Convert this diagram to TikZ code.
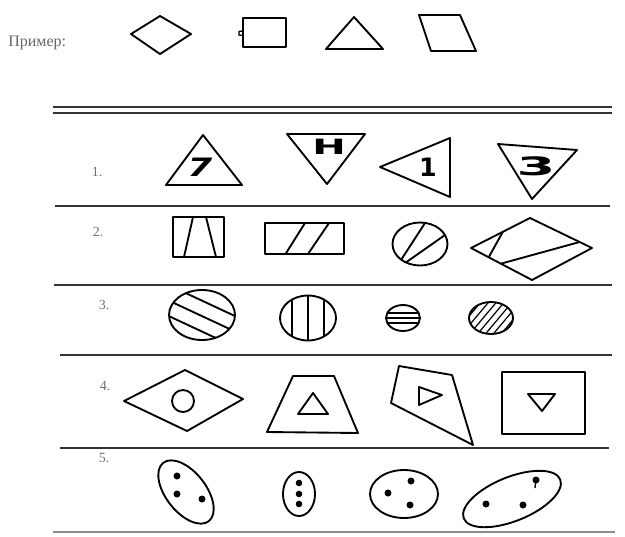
\documentclass[tikz,border=0pt]{standalone}
\usepackage{fontspec}
\setmainfont{Liberation Serif}
\newfontfamily\signfont{DejaVu Sans}
\usetikzlibrary{calc}

\newcommand{\wide}[2]{\scalebox{#1}[1]{#2}}

\begin{document}
\begin{tikzpicture}[x=0.75pt, y=-0.75pt,
  fig/.style={draw, line width=1.4pt, line join=round},
  hatch/.style={line width=0.9pt},
  rule/.style={draw=black!80, line width=1.3pt},
  rowlab/.style={font=\fontsize{10.5}{10.5}\selectfont, text=black!55, inner sep=0pt},
  sign/.style={font=\signfont\bfseries\fontsize{19}{19}\selectfont, inner sep=0pt}]
\useasboundingbox (0,0) rectangle (625,536);

% example row
\node[font=\fontsize{12}{12}\selectfont, text=black!60, anchor=west, inner sep=0pt] (primer) at (8,43) {Пример:};
\draw[fig] (131,34) -- (160,16) -- (191,34) -- (160,54) -- cycle;
\draw[fig] (243,18) rectangle (286,47);
\draw[line width=1pt] (243,31) -- (239,31.5) -- (239,35) -- (243,35.5);
\draw[fig] (354,17) -- (383,49) -- (326,49) -- cycle;
\draw[fig] (419,15) -- (460,15) -- (476,51) -- (431,51) -- cycle;

% rules
\draw[rule] (53,107) -- (612,107);
\draw[rule] (53,113) -- (612,113);
\draw[rule] (55,206) -- (610,206);
\draw[rule] (54,285) -- (612,285);
\draw[rule] (60,355) -- (612,355);
\draw[rule] (60,448) -- (609,448);
\draw[rule, draw=black!45, line width=2pt] (53,532) -- (615,532);

% row labels
\node[rowlab] (lab1) at (97,172) {1.};
\node[rowlab] (lab2) at (98,232) {2.};
\node[rowlab] (lab3) at (104,305) {3.};
\node[rowlab] (lab4) at (105,386) {4.};
\node[rowlab] (lab5) at (104,458) {5.};

% row 1
\draw[fig] (203,135) -- (242,185) -- (166,185) -- cycle;
\node[sign] (seven) at (200,167) {\wide{1.4}{\itshape 7}};
\draw[fig] (287,134) -- (365,134) -- (327,184) -- cycle;
\node[sign, font=\signfont\bfseries\fontsize{15.8}{15.8}\selectfont] (aitch) at (329,147) {\wide{1.9}{H}};
\draw[fig] (380,167) -- (450,138) -- (450,197) -- cycle;
\node[sign] (one) at (428,167) {1};
\draw[fig] (498,144) -- (577,150) -- (532,199) -- cycle;
\node[sign] (three) at (536,166) {\wide{2.2}{3}};

% row 2
\draw[fig] (173,217) rectangle (224,257);
\draw[fig] (193,217) -- (184,257) (206,217) -- (216,257);
\draw[fig] (265,223) rectangle (344,254);
\draw[fig] (285.5,254) -- (305,223) (308,254) -- (329,223);
\draw[fig] (420,244) ellipse [x radius=27.5, y radius=21.5];
\draw[fig] (425,223) -- (401,260) (445,235) -- (406,262.4);
\coordinate (dl) at (471,248);
\coordinate (dt) at (530,218);
\coordinate (dr) at (592,248);
\coordinate (db) at (532,280);
\draw[fig] (dl) -- (dt) -- (dr) -- (db) -- cycle;
\draw[fig] ($(dl)!0.54!(dt)$) -- ($(dl)!0.29!(db)$);
\draw[fig] ($(dl)!0.49!(db)$) -- ($(dt)!0.8!(dr)$);

% row 3
\draw[fig] (202,315) ellipse [x radius=33, y radius=25];
\begin{scope}
  \clip (202,315) ellipse [x radius=33, y radius=25];
  \foreach \d in {-13,1,15}
    \draw[fig, rotate around={-25:(202,315)}] (160,315+\d) -- (244,315+\d);
\end{scope}
\draw[fig] (308,318) ellipse [x radius=28, y radius=22.5];
\begin{scope}
  \clip (308,318) ellipse [x radius=28, y radius=22.5];
  \foreach \d in {-16,0,16}
    \draw[fig] (308+\d,290) -- (308+\d,346);
\end{scope}
\draw[fig] (403,318) ellipse [x radius=17, y radius=13];
\begin{scope}
  \clip (403,318) ellipse [x radius=17, y radius=13];
  \foreach \d in {-5,0,5}
    \draw[hatch] (380,318+\d) -- (426,318+\d);
\end{scope}
\draw[fig] (491,318) ellipse [x radius=22, y radius=16];
\begin{scope}
  \clip (491,318) ellipse [x radius=22, y radius=16];
  \foreach \d in {-18,-12,...,18}
    \draw[hatch, rotate around={50:(491,318)}] (460,318+\d) -- (522,318+\d);
\end{scope}

% row 4
\draw[fig] (124,401) -- (185,370) -- (243,399) -- (187,431) -- cycle;
\draw[fig] (183,401) circle [radius=11];
\draw[fig] (267,432) -- (293,376) -- (334,376) -- (358,433) -- cycle;
\draw[fig] (313,393) -- (328,414) -- (298,414) -- cycle;
\draw[fig] (399,366) -- (452,375) -- (473,445) -- (391,403) -- cycle;
\draw[fig] (419,387) -- (442,395) -- (419,405) -- cycle;
\draw[fig] (502,372) rectangle (585,434);
\draw[fig] (528,394) -- (555,394) -- (542,411) -- cycle;

% row 5
\draw[fig, rotate around={-52:(186,492)}] (186,492) ellipse [x radius=37, y radius=20];
\fill (177,476) circle [radius=3.5] (177,494) circle [radius=3.5] (202,499) circle [radius=3.5];
\draw[fig] (299,494) ellipse [x radius=16, y radius=22];
\fill (299,483) circle [radius=3.3] (299,494) circle [radius=3.3] (299,504) circle [radius=3.3];
\draw[fig] (404,494) ellipse [x radius=34, y radius=24];
\fill (388,493) circle [radius=3.5] (411,481) circle [radius=3.5] (410,505) circle [radius=3.5];
\draw[fig, rotate around={22:(512,499)}] (512,499) ellipse [x radius=52, y radius=22];
\fill (486,504) circle [radius=3.5] (523,505) circle [radius=3.5] (536,480) circle [radius=3.5];
\draw[line width=1pt] (536,480) -- (535,488);
\end{tikzpicture}
\end{document}
